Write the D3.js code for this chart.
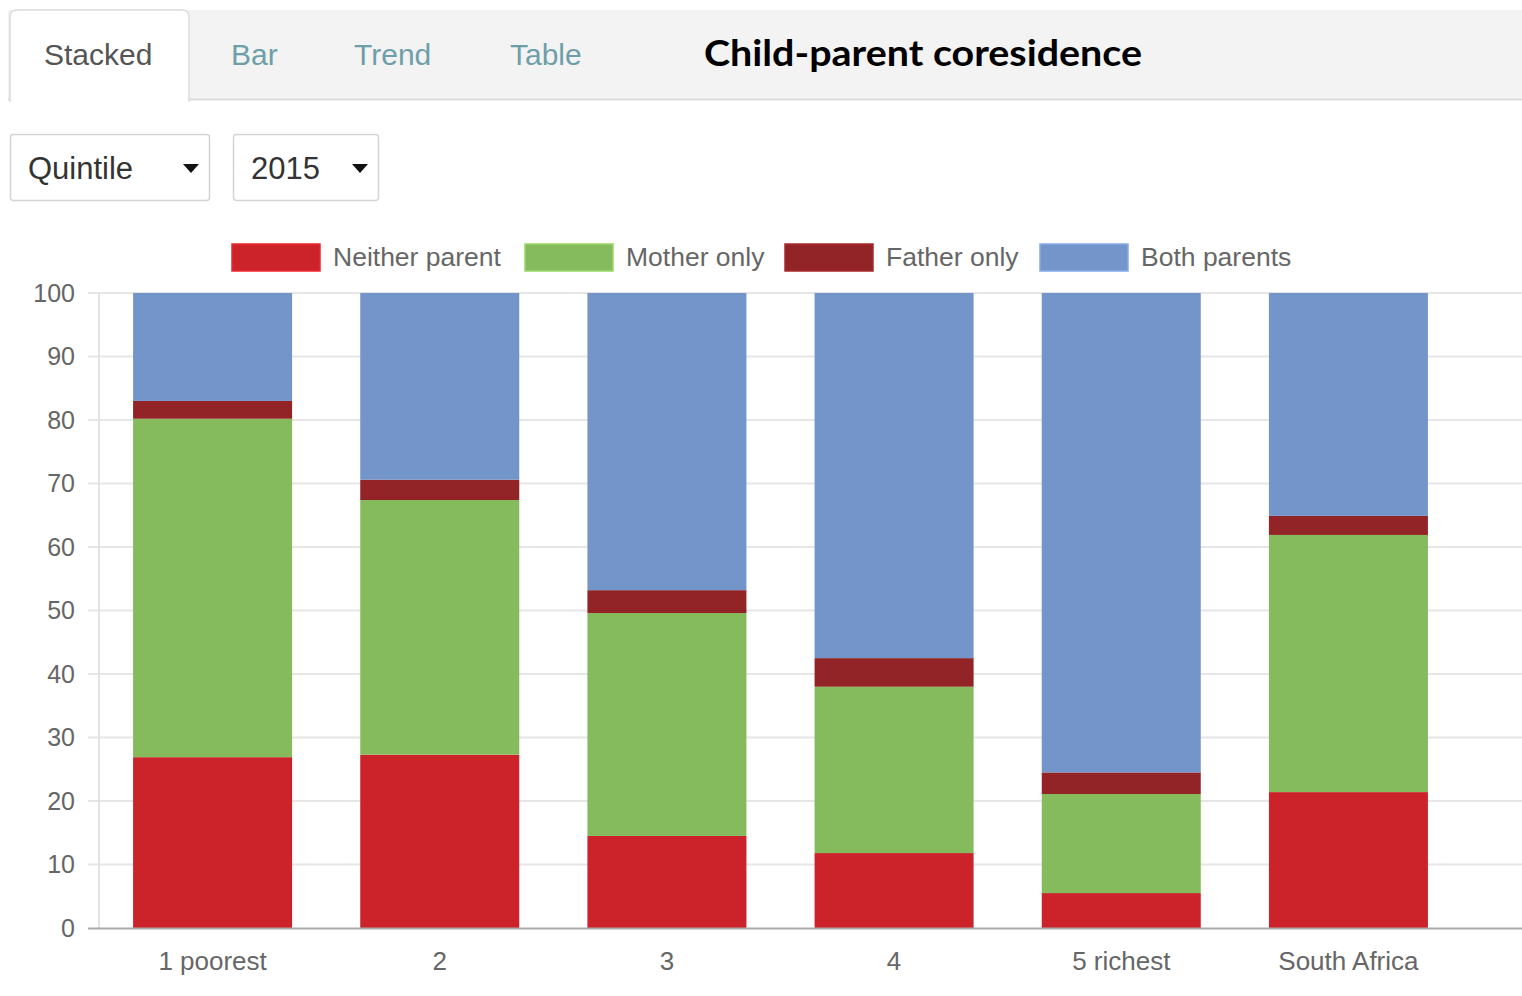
<!DOCTYPE html>
<html>
<head>
<meta charset="utf-8">
<script src="https://cdn.jsdelivr.net/npm/d3@7"></script>
<style>
  html, body { margin: 0; padding: 0; background: #fff; }
  svg { display: block; font-family: "Liberation Sans", Arial, sans-serif; }
</style>
</head>
<body>
<svg id="chart" width="1522" height="996"></svg>
<script>
// Child-parent coresidence by income quintile, 2015 (percent of children)
const categories = ["1 poorest", "2", "3", "4", "5 richest", "South Africa"];
const seriesNames = ["Neither parent", "Mother only", "Father only", "Both parents"];
const neitherParent = [26.9, 27.3, 14.5, 11.8, 5.5, 21.4];
const motherOnly    = [53.3, 40.1, 35.1, 26.2, 15.6, 40.5];
const fatherOnly    = [2.8, 3.2, 3.6, 4.5, 3.4, 3.0];
const bothParents   = [17.0, 29.4, 46.8, 57.5, 75.5, 35.1];
const seriesColors  = ["#cc2229", "#85bb5c", "#922427", "#7395c9"];
const yTicks = [0, 10, 20, 30, 40, 50, 60, 70, 80, 90, 100];
const tabs = ["Stacked", "Bar", "Trend", "Table"];
const title = "Child-parent coresidence";
const selectors = ["Quintile", "2015"];

const svg = d3.select("#chart");

// ---- tab strip ----
svg.append("rect").attr("x", 8).attr("y", 10).attr("width", 1514).attr("height", 89).attr("fill", "#f3f3f3");
svg.append("line").attr("x1", 8).attr("x2", 1522).attr("y1", 99.5).attr("y2", 99.5).attr("stroke", "#dcdcdc").attr("stroke-width", 2);
// active tab
svg.append("path")
  .attr("d", "M10,101 L10,17 Q10,10 17,10 L182,10 Q189,10 189,17 L189,101 Z")
  .attr("fill", "#fff").attr("stroke", "#dcdcdc").attr("stroke-width", 1.5);
svg.append("rect").attr("x", 11).attr("y", 97).attr("width", 177).attr("height", 5).attr("fill", "#fff");

const tabX = [44, 231, 354, 510];
svg.selectAll("text.tab").data(tabs).join("text")
  .attr("class", "tab")
  .attr("x", (d, i) => tabX[i]).attr("y", 65)
  .attr("font-size", 30)
  .attr("fill", (d, i) => i === 0 ? "#555" : "#6e9fa9")
  .text(d => d);

svg.append("text")
  .attr("x", 704).attr("y", 66)
  .attr("font-family", "Lato, 'Open Sans', sans-serif")
  .attr("font-weight", "bold").attr("font-size", 37)
  .attr("textLength", 438).attr("lengthAdjust", "spacingAndGlyphs")
  .attr("fill", "#000")
  .text(title);

// ---- dropdown selectors ----
const selBoxes = [{x: 10, w: 199}, {x: 233, w: 145}];
selectors.forEach((label, i) => {
  const b = selBoxes[i];
  const g = svg.append("g");
  g.append("rect").attr("x", b.x + 0.5).attr("y", 134.5).attr("width", b.w).attr("height", 66)
    .attr("rx", 3).attr("fill", "#fff").attr("stroke", "#d4d4d4").attr("stroke-width", 1.5);
  g.append("text").attr("x", b.x + 18).attr("y", 179).attr("font-size", 31).attr("fill", "#333").text(label);
  const cx = b.x + b.w - 18;
  g.append("path").attr("d", `M${cx - 8},164 L${cx + 8},164 L${cx},173 Z`).attr("fill", "#111");
});

// ---- chart scales ----
const plotLeft = 99, plotRight = 1462, gridRight = 1522;
const y = d3.scaleLinear().domain([0, 100]).range([928, 293]);
const x = d3.scaleBand().domain(categories).range([plotLeft, plotRight]).paddingInner(0.3).paddingOuter(0.15);

// gridlines and tick marks
svg.append("g").selectAll("line").data(yTicks.filter(d => d > 0)).join("line")
  .attr("x1", 88).attr("x2", gridRight)
  .attr("y1", d => y(d)).attr("y2", d => y(d))
  .attr("stroke", "#e6e6e6").attr("stroke-width", 2);
svg.append("line").attr("x1", plotLeft).attr("x2", plotLeft).attr("y1", y(100)).attr("y2", y(0))
  .attr("stroke", "#e3e3e3").attr("stroke-width", 2);

// y axis labels through d3 axis
const yAxis = svg.append("g").attr("transform", `translate(${plotLeft},0)`)
  .call(d3.axisLeft(y).tickValues(yTicks).tickSize(0).tickPadding(24));
yAxis.select(".domain").remove();
yAxis.selectAll("text").attr("font-size", 25).attr("fill", "#666")
  .attr("font-family", "'Liberation Sans', Arial, sans-serif");

// ---- stacked bars ----
const rows = categories.map((c, i) => ({
  cat: c,
  "Neither parent": neitherParent[i],
  "Mother only": motherOnly[i],
  "Father only": fatherOnly[i],
  "Both parents": bothParents[i]
}));
const stacked = d3.stack().keys(seriesNames)(rows);

svg.append("g").selectAll("g").data(stacked).join("g")
  .attr("fill", (d, i) => seriesColors[i])
  .selectAll("rect").data(d => d).join("rect")
  .attr("x", d => x(d.data.cat))
  .attr("width", x.bandwidth())
  .attr("y", d => y(Math.min(d[1], 100)))
  .attr("height", d => y(d[0]) - y(Math.min(d[1], 100)));

// x axis baseline and labels
svg.append("line").attr("x1", 88).attr("x2", gridRight).attr("y1", y(0) + 0.5).attr("y2", y(0) + 0.5)
  .attr("stroke", "#aaa").attr("stroke-width", 2);
const xAxis = svg.append("g").attr("transform", `translate(0,${y(0)})`)
  .call(d3.axisBottom(x).tickSize(0).tickPadding(24));
xAxis.select(".domain").remove();
xAxis.selectAll("text").attr("font-size", 26).attr("fill", "#666")
  .attr("font-family", "'Liberation Sans', Arial, sans-serif");

// ---- legend ----
const legendX = [232, 525, 785, 1040];
const legend = svg.append("g").selectAll("g").data(seriesNames).join("g")
  .attr("transform", (d, i) => `translate(${legendX[i]},244)`);
legend.append("rect").attr("width", 88).attr("height", 27)
  .attr("fill", (d, i) => seriesColors[i])
  .attr("stroke", (d, i) => d3.color(seriesColors[i]).brighter(0.4)).attr("stroke-width", 1.5);
legend.append("text").attr("x", 101).attr("y", 22).attr("font-size", 26.5).attr("fill", "#666").text(d => d);
</script>
</body>
</html>
